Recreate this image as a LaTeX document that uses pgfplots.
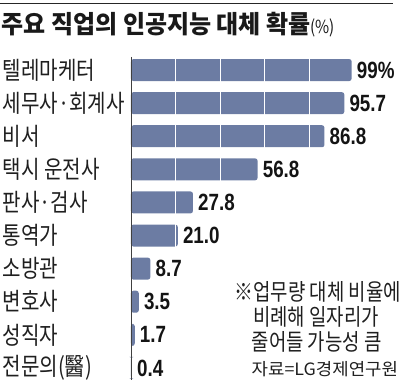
\documentclass[border=0pt]{standalone}
\usepackage{fontspec}
\usepackage{pgfplots}
\pgfplotsset{compat=1.18}
\newfontfamily\krfont[FakeStretch=0.82]{Noto Sans CJK KR}
\newfontfamily\krtitle[FakeStretch=0.96]{Noto Sans CJK KR}
\newfontfamily\krpct[FakeStretch=0.85]{Noto Sans CJK KR}
\newfontfamily\krsrc[FakeStretch=1.05]{Noto Sans CJK KR}
\newfontfamily\numfont[FakeStretch=0.80]{Liberation Sans}
\definecolor{barcol}{RGB}{108,124,163}
\pgfplotsset{
  myax/.style={
    at={(131pt,-56.8pt)}, anchor=north west,
    scale only axis, width=267.5pt, height=322.7pt,
    xmin=0, xmax=120,
    ymin=-0.4, ymax=9.35, y dir=reverse,
    clip=false,
  }
}
\begin{document}
\begin{tikzpicture}
\draw[line width=1.2pt, black!85] (0,-3.3pt) -- (393pt,-3.3pt);
\node[anchor=west, inner sep=0pt, text=black!90] at (1.5pt,-25pt) {\krtitle\bfseries\fontsize{25}{28}\selectfont 주요 직업의 인공지능 대체 확률{\krpct\mdseries\fontsize{18}{20}\selectfont(\%)}};
% bars, grid, category labels
\begin{axis}[
  myax,
  ytick={0,...,9},
  yticklabels={텔레마케터, 세무사·회계사, 비서, 택시 운전사, 판사·검사, 통역가, 소방관, 변호사, 성직자, 전문의(醫)},
  yticklabel style={anchor=west, inner sep=0pt, xshift=-128.5pt, font=\krfont\fontsize{24.5}{26}\selectfont, text=black!88},
  xtick={20,40,60,80}, xticklabels={},
  major tick length=0pt,
  axis lines*=left,
  x axis line style={draw=none},
  y axis line style={draw=black!75, line width=0.9pt},
  xmajorgrids, grid style={white, line width=0.9pt},
  axis on top,
]
\addplot[xbar, bar width=22pt, bar shift=0pt, fill=barcol, draw=none, rounded corners=2.5pt] coordinates {(99,0) (95.7,1) (86.8,2) (56.8,3) (27.8,4) (21.0,5) (8.7,6) (3.5,7) (1.7,8) (0.4,9)};
\end{axis}
% value labels
\begin{axis}[
  myax, hide axis,
]
\addplot[only marks, mark=none, nodes near coords, point meta=explicit symbolic, nodes near coords align=horizontal, every node near coord/.append style={anchor=west, inner sep=0pt, xshift=5pt, font=\numfont\bfseries\fontsize{23.5}{26}\selectfont, text=black!92}] coordinates {(99,0) [99\%] (95.7,1) [95.7] (86.8,2) [86.8] (56.8,3) [56.8] (27.8,4) [27.8] (21.0,5) [21.0] (8.7,6) [8.7] (3.5,7) [3.5] (1.7,8) [1.7] (0.4,9) [0.4]};
\end{axis}
\node[anchor=west, inner sep=0pt, text=black!88] at (234.5pt,-292pt) {\krfont\fontsize{23}{25}\selectfont ※업무량 대체 비율에};
\node[anchor=west, inner sep=0pt, text=black!88] at (253pt,-317.3pt) {\krfont\fontsize{23}{25}\selectfont 비례해 일자리가};
\node[anchor=west, inner sep=0pt, text=black!88] at (251.5pt,-341.7pt) {\krfont\fontsize{23}{25}\selectfont 줄어들 가능성 큼};
\node[anchor=west, inner sep=0pt, text=black!88] at (251.5pt,-369.3pt) {\krsrc\fontsize{17}{19}\selectfont 자료=LG경제연구원};
\pgfresetboundingbox
\useasboundingbox (0,0) rectangle (400pt,-384pt);
\end{tikzpicture}
\end{document}
